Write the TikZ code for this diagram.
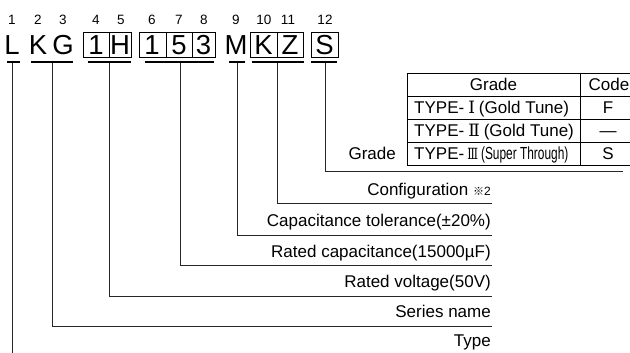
\documentclass[tikz,border=0pt]{standalone}
\usepackage{fontspec}
\setmainfont{Liberation Sans}
\newfontfamily\cjk{Noto Sans CJK JP}
\newfontfamily\rmn{DejaVu Serif}
\usepackage{graphicx}
\begin{document}
\begin{tikzpicture}[x=1pt,y=-1pt,
  numlab/.style={font=\fontsize{13.5}{15}\selectfont, inner sep=0, anchor=base},
  letter/.style={font=\fontsize{27.5}{30}\selectfont, inner sep=0, anchor=base},
  uline/.style={line width=2pt},
  conn/.style={line width=0.9pt, draw=black!85},
  lab/.style={font=\fontsize{17}{20}\selectfont, inner sep=0, anchor=base east},
  tabline/.style={line width=0.9pt},
  ttext/.style={font=\fontsize{17}{19}\selectfont, inner sep=0, anchor=base},
  tleft/.style={ttext, anchor=base west}
]
\useasboundingbox (0,0) rectangle (630,353);
\clip (0,0) rectangle (630,353);

% position numbers
\foreach \x/\t [count=\i] in {12/1,38/2,63/3,96/4,121/5,152/6,179/7,204/8,236/9,264/10,288/11,325/12}
  \node[numlab] (n\i) at (\x,25) {\t};

% letters
\foreach \x/\t [count=\i] in {12/L,38/K,63/G,96/1,120/H,152/1,179/5,203.5/3,236/M,263.5/K,290/Z,324.5/S}
  \node[letter] (c\i) at (\x,55) {\t};

% boxes
\draw[tabline] (83,32) rectangle (131,57) (109,32) -- (109,57);
\draw[tabline] (139,32) rectangle (215,57) (166,32) -- (166,57) (192,32) -- (192,57);
\draw[tabline] (250,32) rectangle (303,57) (277,32) -- (277,57);
\draw[tabline] (311,32) rectangle (338,57);

% underlines
\draw[uline] (7,62.5) -- (20,62.5);
\draw[uline] (31,62.5) -- (73,62.5);
\draw[uline] (88,62.5) -- (131,62.5);
\draw[uline] (145,62.5) -- (214,62.5);
\draw[uline] (229,62.5) -- (245,62.5);
\draw[uline] (252,62.5) -- (304,62.5);
\draw[uline] (311,62.5) -- (337,62.5);

\foreach \x [count=\i] in {12,52,109,180,237,277,325}
  \coordinate (u\i) at (\x,63.5);

% labels
\node[lab] (lconf) at (491,195) {Configuration {\cjk\fontsize{11}{12}\selectfont ※}{\fontsize{12}{13}\selectfont 2}};
\node[lab] (ltol)  at (491,226) {Capacitance tolerance(±20\%)};
\node[lab] (lcap)  at (491,257) {Rated capacitance(15000µF)};
\node[lab] (lvol)  at (491,287) {Rated voltage(50V)};
\node[lab] (lser)  at (491,317) {Series name};
\node[lab] (ltyp)  at (491,346) {Type};

\coordinate (e1) at (12,353);
\coordinate (e2) at (492,326);
\coordinate (e3) at (492,296);
\coordinate (e4) at (492,265);
\coordinate (e5) at (492,235);
\coordinate (e6) at (492,203);
\coordinate (e7) at (623,171);

\draw[conn] (u1) -- (e1);
\draw[conn] (u2) |- (e2);
\draw[conn] (u3) |- (e3);
\draw[conn] (u4) |- (e4);
\draw[conn] (u5) |- (e5);
\draw[conn] (u6) |- (e6);
\draw[conn] (u7) |- (e7);

% grade table
\draw[tabline] (407,73) rectangle (640,165);
\draw[tabline] (407,96) -- (640,96) (407,119) -- (640,119) (407,142) -- (640,142);
\draw[tabline] (580,73) -- (580,165);

\node[ttext] (hgrade) at (493.5,90.5) {Grade};
\node[ttext] (hcode)  at (609,90.5) {Code};
\node[tleft] (t1) at (414,113.5) {TYPE-\hspace{4pt}{\rmn Ⅰ}\hspace{4pt}(Gold Tune)};
\node[tleft] (t2) at (414,136.5) {TYPE-\hspace{4pt}{\rmn Ⅱ}\hspace{4pt}(Gold Tune)};
\node[tleft] (t3) at (414,159.5) {TYPE-\hspace{3pt}{\rmn\fontsize{14}{16}\selectfont\scalebox{0.8}[1.1]{Ⅲ}}\hspace{3pt}\scalebox{0.7}[1.03]{(Super Through)}};
\node[ttext] (k1) at (608,113.5) {F};
\node[ttext] (k2) at (608,136.5) {—};
\node[ttext] (k3) at (608,159.5) {S};

\node[lab] (lgrade) at (396,160) {Grade};
\end{tikzpicture}
\end{document}
